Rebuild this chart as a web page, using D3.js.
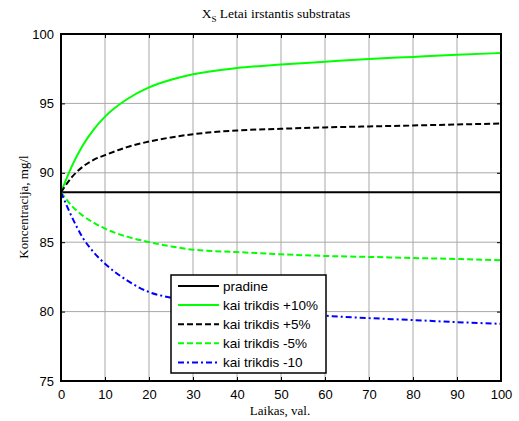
<!DOCTYPE html>
<html>
<head>
<meta charset="utf-8">
<script src="https://cdn.jsdelivr.net/npm/d3@7"></script>
<style>
  body { margin: 0; background: #fff; }
  .tick text { font-family: "Liberation Sans", Arial, sans-serif; font-size: 13px; }
  .serif { font-family: "Liberation Serif", "Times New Roman", serif; }
</style>
</head>
<body>
<script>
// time points (val.)
let laikas = [0, 2.5, 5, 7.5, 10, 15, 20, 25, 30, 40, 50, 60, 70, 80, 90, 100]

// concentrations, mg/l
let pradine = [88.6, 88.6, 88.6, 88.6, 88.6, 88.6, 88.6, 88.6, 88.6, 88.6, 88.6, 88.6, 88.6, 88.6, 88.6, 88.6]
let plus10 = [88.6, 90.5, 92.0, 93.15, 94.05, 95.3, 96.15, 96.7, 97.1, 97.55, 97.8, 98.0, 98.2, 98.35, 98.5, 98.63]
let plus5 = [88.6, 89.7, 90.45, 90.95, 91.27, 91.85, 92.25, 92.55, 92.78, 93.05, 93.17, 93.27, 93.34, 93.41, 93.48, 93.55]
let minus5 = [88.6, 87.6, 86.9, 86.4, 85.98, 85.4, 85.01, 84.7, 84.46, 84.29, 84.13, 84.01, 83.94, 83.86, 83.79, 83.7]
let minus10 = [88.6, 86.8, 85.3, 84.25, 83.45, 82.25, 81.41, 81.0, 80.7, 80.2, 79.9, 79.7, 79.53, 79.39, 79.24, 79.12]

let seriesNames = ["pradine", "kai trikdis +10%", "kai trikdis +5%", "kai trikdis -5%", "kai trikdis -10"]
let seriesValues = [pradine, plus10, plus5, minus5, minus10]
let seriesColors = ["#000000", "#00ff00", "#000000", "#00ff00", "#0000ff"]
let seriesDash = [null, null, "6,3", "6,3", "6,3,2,3"]

let xTicks = d3.range(0, 101, 10)
let yTicks = [75, 80, 85, 90, 95, 100]

let width = 519
let height = 421
let margin = {top: 34, right: 18, bottom: 40, left: 61}

let x = d3.scaleLinear().domain([0, 100]).range([margin.left, width - margin.right])
let y = d3.scaleLinear().domain([75, 100]).range([height - margin.bottom, margin.top])

let svg = d3.select('body').append('svg')
    .attr('width', width)
    .attr('height', height)

svg.append('rect').attr('width', width).attr('height', height).attr('fill', '#fff')

// grid
let grid = svg.append('g')
grid.selectAll('.gx').data(xTicks).enter().append('line')
    .attr('x1', d => x(d)).attr('x2', d => x(d))
    .attr('y1', y(75)).attr('y2', y(100))
    .attr('stroke', '#a8a8a8').attr('stroke-width', 1)
grid.selectAll('.gy').data(yTicks).enter().append('line')
    .attr('y1', d => y(d)).attr('y2', d => y(d))
    .attr('x1', x(0)).attr('x2', x(100))
    .attr('stroke', '#a8a8a8').attr('stroke-width', 1)

// axes
let xAxis = svg.append('g')
    .attr('transform', 'translate(0,' + y(75) + ')')
    .call(d3.axisBottom(x).tickValues(xTicks).tickSizeInner(-4).tickSizeOuter(0).tickPadding(9))
let yAxis = svg.append('g')
    .attr('transform', 'translate(' + x(0) + ',0)')
    .call(d3.axisLeft(y).tickValues(yTicks).tickSizeInner(-4).tickSizeOuter(0).tickPadding(7))
let xTop = svg.append('g')
    .attr('transform', 'translate(0,' + y(100) + ')')
    .call(d3.axisTop(x).tickValues(xTicks).tickSizeInner(-4).tickSizeOuter(0).tickFormat(''))
let yRight = svg.append('g')
    .attr('transform', 'translate(' + x(100) + ',0)')
    .call(d3.axisRight(y).tickValues(yTicks).tickSizeInner(-4).tickSizeOuter(0).tickFormat(''))

svg.selectAll('.domain').remove()
svg.selectAll('.tick line').attr('stroke', '#000')
svg.selectAll('.tick text').attr('fill', '#000')

// lines
let line = d3.line()
    .x((d, i) => x(laikas[i]))
    .y(d => y(d))
    .curve(d3.curveMonotoneX)

seriesValues.forEach((vals, i) => {
    svg.append('path')
        .datum(vals)
        .attr('d', line)
        .attr('fill', 'none')
        .attr('stroke', seriesColors[i])
        .attr('stroke-width', 2)
        .attr('stroke-dasharray', seriesDash[i])
})

// frame
svg.append('rect')
    .attr('x', x(0)).attr('y', y(100))
    .attr('width', x(100) - x(0)).attr('height', y(75) - y(100))
    .attr('fill', 'none').attr('stroke', '#000').attr('stroke-width', 2)

// legend
let lg = svg.append('g').attr('transform', 'translate(171,275)')
lg.append('rect')
    .attr('width', 155).attr('height', 98)
    .attr('fill', '#fff').attr('stroke', '#000').attr('stroke-width', 1.5)
seriesNames.forEach((name, i) => {
    let ly = 11 + i * 19.1
    lg.append('line')
        .attr('x1', 7).attr('x2', 48)
        .attr('y1', ly).attr('y2', ly)
        .attr('stroke', seriesColors[i]).attr('stroke-width', 2)
        .attr('stroke-dasharray', seriesDash[i])
    lg.append('text')
        .attr('x', 52).attr('y', ly + 5)
        .attr('font-family', '"Liberation Sans", Arial, sans-serif')
        .attr('font-size', 13.5)
        .text(name)
})

// title
let title = svg.append('text')
    .attr('class', 'serif')
    .attr('x', 276).attr('y', 18)
    .attr('text-anchor', 'middle')
    .attr('font-size', 13.5)
title.append('tspan').text('X')
title.append('tspan').attr('font-size', 9).attr('dy', 4).text('S')
title.append('tspan').attr('dy', -4).text(' Letai irstantis substratas')

svg.append('text')
    .attr('class', 'serif')
    .attr('x', 280).attr('y', 415)
    .attr('text-anchor', 'middle')
    .attr('font-size', 13)
    .text('Laikas, val.')

svg.append('text')
    .attr('class', 'serif')
    .attr('transform', 'translate(28,207) rotate(-90)')
    .attr('text-anchor', 'middle')
    .attr('font-size', 13)
    .text('Koncentracija, mg/l')
</script>
</body>
</html>
